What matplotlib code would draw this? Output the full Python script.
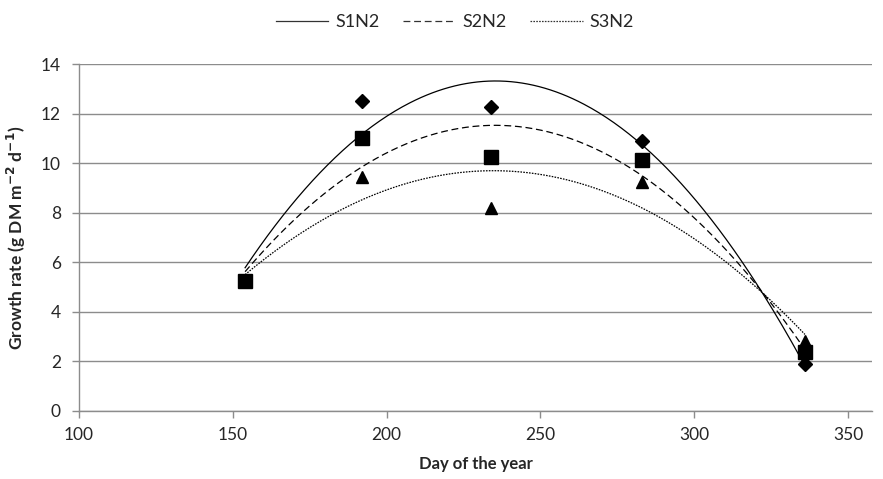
import numpy as np
import matplotlib
matplotlib.use("Agg")
import matplotlib.pyplot as plt
from matplotlib.lines import Line2D

plt.rcParams['font.family'] = ['Lato', 'DejaVu Sans']

days = [154, 192, 234, 283, 336]
s1n2 = [5.25, 12.52, 12.29, 10.91, 1.87]
s2n2 = [5.25, 11.01, 10.24, 10.12, 2.36]
s3n2 = [5.30, 9.46, 8.18, 9.26, 2.80]
series_names = ["S1N2", "S2N2", "S3N2"]
xticks = [100, 150, 200, 250, 300, 350]
yticks = [0, 2, 4, 6, 8, 10, 12, 14]

W, H = 883, 479
fig = plt.figure(figsize=(W / 100, H / 100), dpi=100)
ax = fig.add_axes([79 / W, 1 - 410.7 / H, (872 - 79) / W, (410.7 - 64.3) / H])

grid_c = "#8c8c8c"
text_c = "#262626"
ax.set_xlim(100, 100 + (872 - 79) / ((848 - 79) / 250))
ax.set_ylim(0, 14)
ax.set_yticks(yticks)
ax.set_xticks(xticks)
ax.yaxis.grid(True, color=grid_c, linewidth=1.0)
ax.set_axisbelow(True)
for s in ["top", "right"]:
    ax.spines[s].set_visible(False)
for s in ["left", "bottom"]:
    ax.spines[s].set_color(grid_c)
    ax.spines[s].set_linewidth(1.0)
ax.tick_params(axis="both", colors=grid_c, length=5, width=1.0, labelcolor=text_c, labelsize=12.5)
ax.tick_params(axis="y", pad=8)
ax.tick_params(axis="x", pad=7)

xs = np.linspace(min(days), max(days), 300)
styles = [("D", 7.2), ("s", 10.6), ("^", 8.4)]
dash_styles = ["-", (0, (5.5, 3)), (0, (1.3, 1.0))]
handles = []
for vals, name, (mk, ms), dsh in zip([s1n2, s2n2, s3n2], series_names, styles, dash_styles):
    coef = np.polyfit(days, vals, 2)
    ax.plot(xs, np.polyval(coef, xs), color="black", linewidth=0.9, linestyle=dsh, zorder=2)
    ax.plot(days, vals, linestyle="none", marker=mk, markersize=ms, color="black", zorder=3)
    handles.append(Line2D([0], [0], color="#333333", linewidth=0.9, linestyle=dsh, label=name))

fig.legend(handles=handles, loc="center", bbox_to_anchor=(455 / W, 1 - 22 / H), ncol=3,
           frameon=False, fontsize=13, handlelength=2.9, handletextpad=0.4, columnspacing=1.3,
           labelcolor=text_c)

ax.set_xlabel("Day of the year", fontsize=12, fontweight="bold", color=text_c, labelpad=9)
ax.set_ylabel("Growth rate (g DM m$^{\\mathbf{-2}}$ d$^{\\mathbf{-1}}$)", fontsize=12.5,
              fontweight="bold", color=text_c, labelpad=9)

fig.savefig("out.png", dpi=100)
